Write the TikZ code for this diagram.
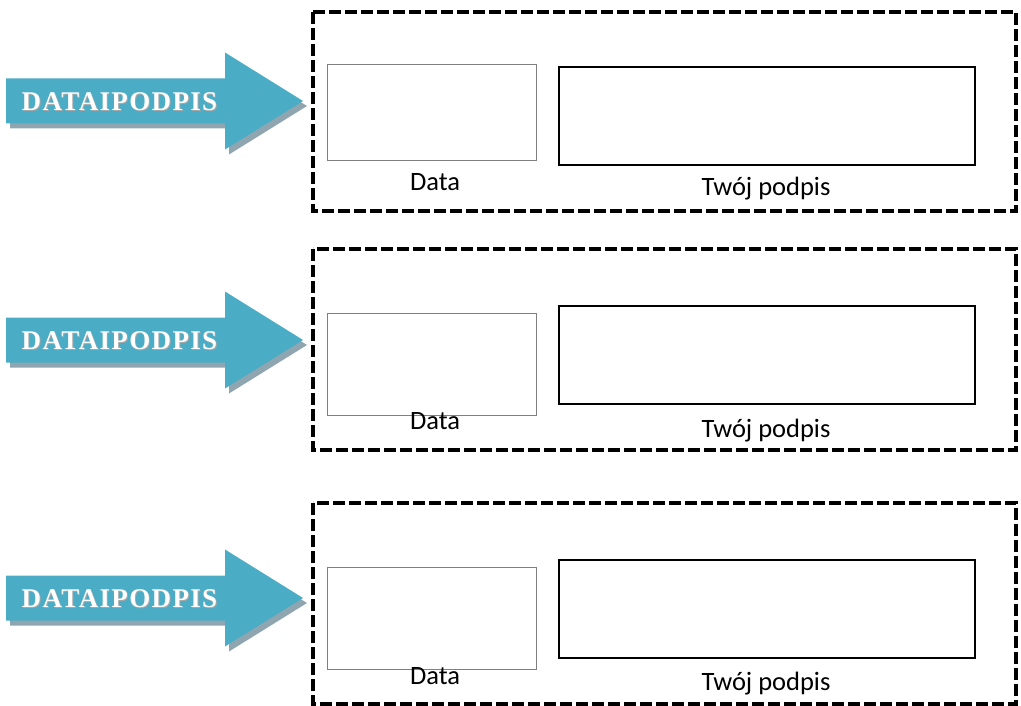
\documentclass[tikz,border=0pt]{standalone}
\usepackage{fontspec}
\setmainfont{Carlito}
\newfontfamily\arrowfont[LetterSpace=5]{Liberation Serif}
\definecolor{teal}{HTML}{4BACC6}
\definecolor{arrowshadow}{HTML}{8FA6B1}
\definecolor{boxgray}{HTML}{7F7F7F}
\tikzset{
  arrowbody/.style={fill=teal},
  arrowshade/.style={fill=arrowshadow},
  arrowtext/.style={text=white, font=\arrowfont\bfseries\fontsize{27}{27}\selectfont, anchor=base, inner sep=0pt},
  arrowtextshadow/.style={text=black!35, font=\arrowfont\bfseries\fontsize{27}{27}\selectfont, anchor=base, inner sep=0pt},
  outerbox/.style={draw=black, line width=3.5pt, dash pattern=on 12pt off 4pt},
  databox/.style={draw=boxgray, line width=1pt},
  sigbox/.style={draw=black, line width=2pt},
  caption/.style={font=\fontsize{26.5}{26.5}\selectfont, anchor=base, inner sep=0pt, text=black}
}
\begin{document}
\begin{tikzpicture}[x=1pt,y=-1pt]
\useasboundingbox (0,0) rectangle (1021,706);
\foreach \ay/\dt/\db/\ft/\fb/\st/\sb/\fbase/\sbase [count=\i] in
  {101/12/211/64/160/66/164/191/196,
   340/249/450/313/415/305/403/429/437,
   598/503/704/567/669/559/657/684/690}{
  % arrow shadow
  \fill[arrowshade] (10,\ay-22.5+5) -- (229,\ay-22.5+5) -- (229,\ay-48.5+5) -- (307,\ay+5)
        -- (229,\ay+48.5+5) -- (229,\ay+22.5+5) -- (10,\ay+22.5+5) -- cycle;
  % arrow
  \fill[arrowbody] (6,\ay-22.5) -- (225,\ay-22.5) -- (225,\ay-48.5) -- (303,\ay)
        -- (225,\ay+48.5) -- (225,\ay+22.5) -- (6,\ay+22.5) -- cycle;
  \node[arrowtextshadow] at (120.5,\ay+10.5) {DATAIPODPIS};
  \node[arrowtext] (label\i) at (119.5,\ay+9.5) {DATAIPODPIS};
  % outer dashed frame
  \draw[outerbox] (313,\dt) rectangle (1016,\db);
  % date box
  \node[databox, minimum width=209pt, minimum height={(\fb-\ft)*1pt}, anchor=north west, inner sep=0pt] (date\i) at (327,\ft) {};
  % signature box
  \node[sigbox, minimum width=416pt, minimum height={(\sb-\st)*1pt}, anchor=north west, inner sep=0pt] (sig\i) at (558,\st) {};
  \node[caption] (datetext\i) at (435,\fbase) {Data};
  \node[caption] (sigtext\i) at (766,\sbase) {Twój podpis};
}
\end{tikzpicture}
\end{document}
